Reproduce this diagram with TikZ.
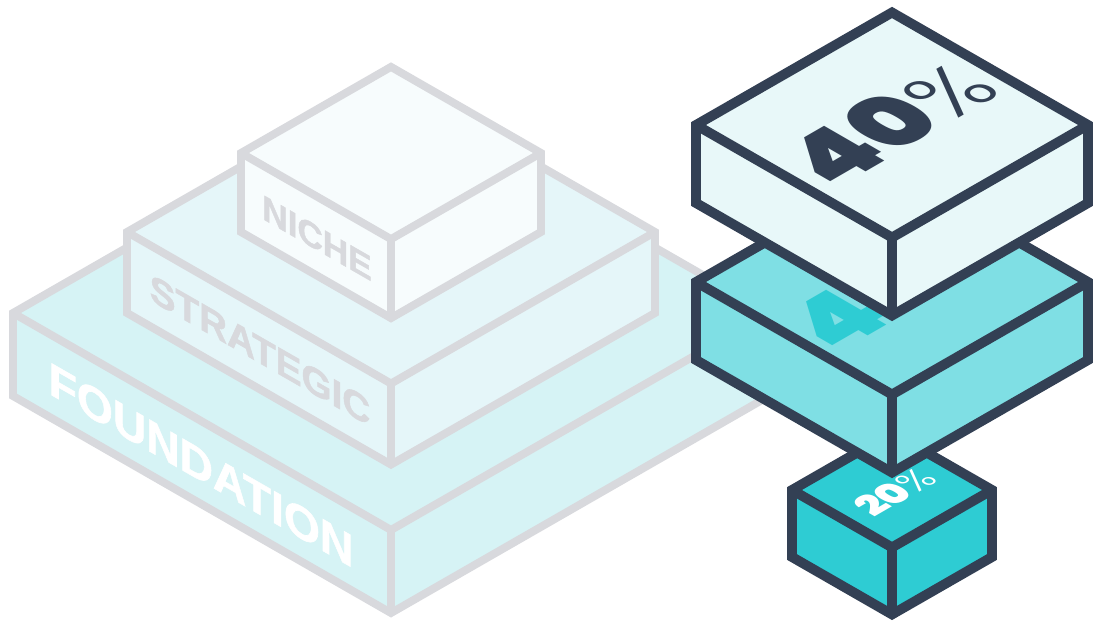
\documentclass[tikz,border=0pt]{standalone}
\usepackage{fontspec}
\setmainfont{Liberation Sans}
\newfontfamily\heavyfont{Liberation Sans}[BoldFeatures={FakeBold=1.3}]
\newfontfamily\numfont{Poppins Black}
\newfontfamily\thinfont{Poppins Light}
\usepackage{tikz}
\usetikzlibrary{positioning}
\usepackage{xcolor}
\definecolor{greyline}{RGB}{216,217,221}
\definecolor{navy}{RGB}{51,64,84}
\definecolor{foundfill}{RGB}{214,243,245}
\definecolor{stratfill}{RGB}{229,246,249}
\definecolor{nichefill}{RGB}{247,252,253}
\definecolor{palefill}{RGB}{232,248,249}
\definecolor{midteal}{RGB}{127,223,228}
\definecolor{cubeteal}{RGB}{46,204,211}

% box with top-face centre (#1,#2), half width #3, height #4
\newcommand{\isobox}[6]{%
  \pgfmathsetmacro{\isoh}{0.574*#3}%
  \filldraw[#5, fill=#6] (#1-#3,#2) -- (#1,#2-\isoh) -- (#1+#3,#2) -- (#1+#3,#2+#4)
    -- (#1,#2+\isoh+#4) -- (#1-#3,#2+#4) -- cycle;
  \draw[#5] (#1-#3,#2) -- (#1,#2+\isoh) -- (#1+#3,#2) (#1,#2+\isoh) -- (#1,#2+\isoh+#4);
}

\tikzset{
  ghost/.style={draw=greyline, line width=4.5pt},
  stack/.style={draw=navy, line width=5.6pt},
  side label/.style={cm={1,-0.574,0,1,(0,0)}, inner sep=0pt},
  top label/.style={cm={0.866,0.5,-0.866,0.5,(0,0)}, inner sep=0pt},
}

\begin{document}
\begin{tikzpicture}[x=0.02cm, y=-0.02cm]
  \useasboundingbox (0,0) rectangle (1095,621);
  % left: pale pyramid
  \isobox{391}{313}{378}{83}{ghost}{foundfill}
  \node[side label, text=white, font=\fontsize{26.3}{30}\selectfont\heavyfont\bfseries] (foundation) at (201,465) {FOUNDATION};
  \isobox{391}{232}{264}{81}{ghost}{stratfill}
  \node[side label, text=greyline, font=\fontsize{22}{26}\selectfont\heavyfont\bfseries] (strategic) at (260,350) {STRATEGIC};
  \isobox{391}{153}{150}{79}{ghost}{nichefill}
  \node[side label, text=greyline, font=\fontsize{20}{24}\selectfont\heavyfont\bfseries] (niche) at (317,238) {NICHE};
  % right: stacked blocks
  \isobox{892}{490}{100}{67}{stack}{cubeteal}
  \node[top label, text=white] (pct20) at (895,492) {\fontsize{22}{24}\selectfont\numfont 20\thinfont\%};
  \isobox{892}{282}{196}{78}{stack}{midteal}
  \node[top label, text=cubeteal] (four) at (837,319) {\fontsize{55}{57}\selectfont\numfont 4};
  \isobox{892}{125}{196}{78}{stack}{palefill}
  \node[top label, text=navy] (pct40) at (889,123) {{\fontsize{55}{57}\selectfont\numfont 40}{\fontsize{50}{52}\selectfont\thinfont\%}};
\end{tikzpicture}
\end{document}
